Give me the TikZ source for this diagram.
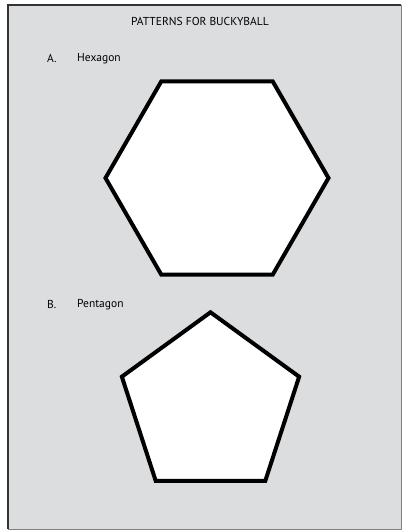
\documentclass[tikz,border=0pt]{standalone}
\usepackage{fontspec}
\setmainfont{PT Sans}
\definecolor{sheetgray}{HTML}{DCDDDF}
\definecolor{edgedark}{HTML}{333333}
\definecolor{edgelight}{HTML}{808080}
\begin{document}
\begin{tikzpicture}[x=1pt,y=-1pt]
    \useasboundingbox (0,0) rectangle (402,531);
    \fill [sheetgray] (8,5) rectangle (401,529);
    \draw [edgelight, line width=1pt] (8,529) -- (401,529) -- (401,5);
    \draw [edgedark, line width=2pt] (8,529) -- (8,5) -- (401,5);
    % hexagon
    \draw [line width=4pt, fill=white, line join=miter]
      (217,178) +(0:111.5) -- +(60:111.5) -- +(120:111.5) -- +(180:111.5)
      -- +(240:111.5) -- +(300:111.5) -- cycle;
    % pentagon
    \draw [line width=4pt, fill=white, line join=miter]
      (210.5,405.5) +(-90:93.2) -- +(-18:93.2) -- +(54:93.2) -- +(126:93.2)
      -- +(198:93.2) -- cycle;
    \begin{scope}[font=\fontsize{11.5}{13}\selectfont, inner sep=0pt]
    \node (title) at (200,21.5) {PATTERNS FOR BUCKYBALL};
    \node [anchor=west] (hexA) at (47,58.5) {A.};
    \node [anchor=west] (hexname) at (77,58.5) {Hexagon};
    \node [anchor=west] (pentB) at (47,304.5) {B.};
    \node [anchor=west] (pentname) at (77,304.5) {Pentagon};
    \end{scope}
  \end{tikzpicture}
\end{document}
